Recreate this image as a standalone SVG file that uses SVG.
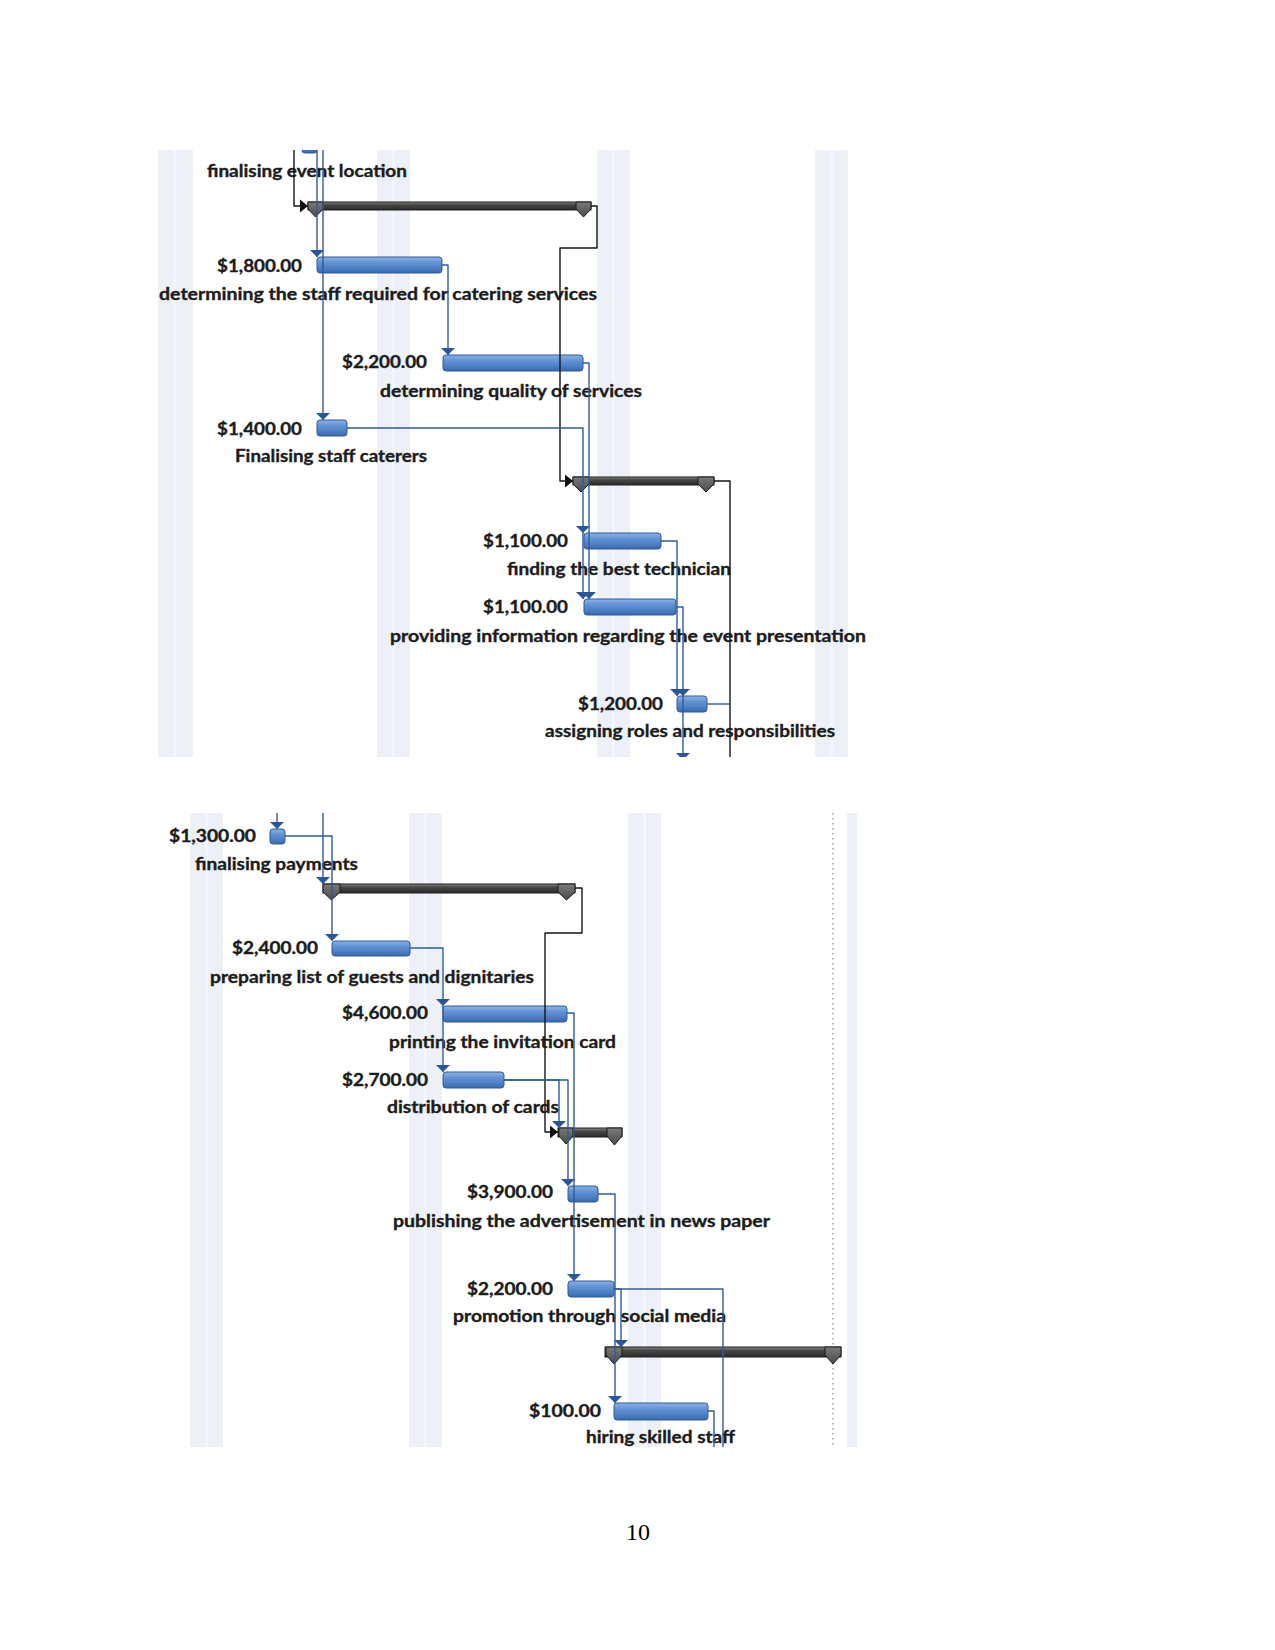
<svg xmlns="http://www.w3.org/2000/svg" width="1275" height="1650" viewBox="0 0 1275 1650">
<style>
.bg{fill:#ffffff}
.st{fill:#edf1f7}
.sl{fill:#f3f6fa}
.bar{fill:url(#bg1);stroke:#2d5b97;stroke-width:1}
.sum{fill:url(#sg1);stroke:#1c1c1c;stroke-width:1}
.cap{fill:url(#sg2);stroke:#1c1c1c;stroke-width:1}
.t{font-family:Lato,"Open Sans","Liberation Sans",sans-serif;font-weight:700;font-size:16.5px;fill:#1c1c1c;stroke:#1c1c1c;stroke-width:0.35}
.lb{fill:none;stroke:#2e5c9b;stroke-width:1.4;stroke-linejoin:round}
.lk{fill:none;stroke:#151515;stroke-width:1.4;stroke-linejoin:round}
.dot{fill:none;stroke:#8a8a8a;stroke-width:1.2;stroke-dasharray:1.5 3.5}
.pg{font-family:"Liberation Serif","Times New Roman",serif;font-size:24px;fill:#000}
</style>
<defs>
<linearGradient id="bg1" x1="0" y1="0" x2="0" y2="1">
<stop offset="0" stop-color="#8db2e4"/>
<stop offset="0.35" stop-color="#6393d5"/>
<stop offset="0.75" stop-color="#4a7cc2"/>
<stop offset="1" stop-color="#3a68aa"/>
</linearGradient>
<linearGradient id="sg1" x1="0" y1="0" x2="0" y2="1">
<stop offset="0" stop-color="#8a8a8a"/>
<stop offset="0.35" stop-color="#474747"/>
<stop offset="1" stop-color="#2b2b2b"/>
</linearGradient>
<linearGradient id="sg2" x1="0" y1="0" x2="0" y2="1">
<stop offset="0" stop-color="#7a7a7a"/>
<stop offset="1" stop-color="#4a4a4a"/>
</linearGradient>
<marker id="ab" markerUnits="userSpaceOnUse" markerWidth="16" markerHeight="16" viewBox="-8 -8 16 16" refX="0" refY="0" orient="auto">
<path d="M-7,-7 L0,0 L-7,7 Z" fill="#2a5699"/>
</marker>
<marker id="ak" markerUnits="userSpaceOnUse" markerWidth="16" markerHeight="16" viewBox="-8 -8 16 16" refX="0" refY="0" orient="auto">
<path d="M-8,-6.5 L0,0 L-8,6.5 Z" fill="#111111"/>
</marker>
<clipPath id="c1"><rect x="150" y="150" width="730" height="607"/></clipPath>
<clipPath id="c2"><rect x="150" y="813" width="730" height="634"/></clipPath>
</defs>
<rect class="bg" x="0" y="0" width="1275" height="1650"/>

<g id="panel-top-bg">
<rect class="st" x="158" y="150" width="35" height="607"/><rect class="sl" x="173" y="150" width="3" height="607"/>
<rect class="st" x="377" y="150" width="33" height="607"/><rect class="sl" x="392" y="150" width="3" height="607"/>
<rect class="st" x="597" y="150" width="33" height="607"/><rect class="sl" x="612" y="150" width="3" height="607"/>
<rect class="st" x="815" y="150" width="33" height="607"/><rect class="sl" x="830" y="150" width="3" height="607"/>
</g>
<g id="panel-bottom-bg">
<rect class="st" x="190" y="813" width="33" height="634"/><rect class="sl" x="205" y="813" width="3" height="634"/>
<rect class="st" x="409" y="813" width="33" height="634"/><rect class="sl" x="424" y="813" width="3" height="634"/>
<rect class="st" x="628" y="813" width="33" height="634"/><rect class="sl" x="643" y="813" width="3" height="634"/>
<rect class="st" x="847" y="813" width="10" height="634"/>
<line class="dot" x1="833" y1="813" x2="833" y2="1447"/>
</g>

<g clip-path="url(#c1)">
<g id="task-event-location">
<rect class="bar" x="302" y="136" width="15" height="17" rx="3"/>
<text class="t" x="207" y="177" textLength="200" lengthAdjust="spacingAndGlyphs">finalising event location</text>
</g>
<g id="summary-1">
<rect class="sum" x="308" y="202" width="283" height="8"/>
<polygon class="cap" points="308,202 323,202 323,209 315.5,217 308,209"/>
<polygon class="cap" points="576,202 591,202 591,209 583.5,217 576,209"/>
</g>
<g id="task-staff-required">
<text class="t" x="217" y="272" textLength="85" lengthAdjust="spacingAndGlyphs">$1,800.00</text>
<rect class="bar" x="317" y="257" width="125" height="16" rx="3"/>
<text class="t" x="159" y="300" textLength="438" lengthAdjust="spacingAndGlyphs">determining the staff required for catering services</text>
</g>
<g id="task-quality">
<text class="t" x="342" y="368" textLength="85" lengthAdjust="spacingAndGlyphs">$2,200.00</text>
<rect class="bar" x="443" y="355" width="140" height="16" rx="3"/>
<text class="t" x="380" y="397" textLength="262" lengthAdjust="spacingAndGlyphs">determining quality of services</text>
</g>
<g id="task-staff-caterers">
<text class="t" x="217" y="435" textLength="85" lengthAdjust="spacingAndGlyphs">$1,400.00</text>
<rect class="bar" x="317" y="420" width="30" height="16" rx="3"/>
<text class="t" x="235" y="462" textLength="192" lengthAdjust="spacingAndGlyphs">Finalising staff caterers</text>
</g>
<g id="summary-2">
<rect class="sum" x="573" y="477" width="141" height="8"/>
<polygon class="cap" points="573,477 589,477 589,484 581,492 573,484"/>
<polygon class="cap" points="698,477 714,477 714,484 706,492 698,484"/>
</g>
<g id="task-technician">
<text class="t" x="483" y="547" textLength="85" lengthAdjust="spacingAndGlyphs">$1,100.00</text>
<rect class="bar" x="584" y="533" width="77" height="16" rx="3"/>
<text class="t" x="507" y="575" textLength="224" lengthAdjust="spacingAndGlyphs">finding the best technician</text>
</g>
<g id="task-presentation">
<text class="t" x="483" y="613" textLength="85" lengthAdjust="spacingAndGlyphs">$1,100.00</text>
<rect class="bar" x="584" y="599" width="92" height="16" rx="3"/>
<text class="t" x="390" y="642" textLength="476" lengthAdjust="spacingAndGlyphs">providing information regarding the event presentation</text>
</g>
<g id="task-roles">
<text class="t" x="578" y="710" textLength="85" lengthAdjust="spacingAndGlyphs">$1,200.00</text>
<rect class="bar" x="677" y="696" width="30" height="16" rx="3"/>
<text class="t" x="545" y="737" textLength="290" lengthAdjust="spacingAndGlyphs">assigning roles and responsibilities</text>
</g>
<g id="connectors-top">
<polyline class="lk" points="294,150 294,206 308,206" marker-end="url(#ak)"/>
<polyline class="lb" points="317,150 317,257" marker-end="url(#ab)"/>
<polyline class="lb" points="323,150 323,420" marker-end="url(#ab)"/>
<polyline class="lb" points="442,265 448,265 448,355" marker-end="url(#ab)"/>
<polyline class="lk" points="591,206 597,206 597,248 560,248 560,481 573,481" marker-end="url(#ak)"/>
<polyline class="lb" points="347,428 583,428 583,533" marker-end="url(#ab)"/>
<polyline class="lb" points="583,533 583,599" marker-end="url(#ab)"/>
<polyline class="lb" points="583,363 589,363 589,599" marker-end="url(#ab)"/>
<polyline class="lb" points="661,541 677,541 677,696" marker-end="url(#ab)"/>
<polyline class="lb" points="676,607 683,607 683,696" marker-end="url(#ab)"/>
<polyline class="lb" points="683,696 683,760" marker-end="url(#ab)"/>
<polyline class="lk" points="714,481 730,481 730,757"/>
<polyline class="lb" points="707,704 730,704"/>
</g>
</g>

<g clip-path="url(#c2)">
<g id="task-payments">
<text class="t" x="169" y="842" textLength="87" lengthAdjust="spacingAndGlyphs">$1,300.00</text>
<rect class="bar" x="270" y="829" width="15" height="15" rx="3"/>
<text class="t" x="195" y="870" textLength="163" lengthAdjust="spacingAndGlyphs">finalising payments</text>
</g>
<g id="summary-3">
<rect class="sum" x="323" y="884" width="252" height="9"/>
<polygon class="cap" points="323,884 340,884 340,892 331.5,900 323,892"/>
<polygon class="cap" points="558,884 575,884 575,892 566.5,900 558,892"/>
</g>
<g id="task-guest-list">
<text class="t" x="232" y="954" textLength="86" lengthAdjust="spacingAndGlyphs">$2,400.00</text>
<rect class="bar" x="332" y="941" width="78" height="15" rx="3"/>
<text class="t" x="210" y="983" textLength="324" lengthAdjust="spacingAndGlyphs">preparing list of guests and dignitaries</text>
</g>
<g id="task-printing">
<text class="t" x="342" y="1019" textLength="86" lengthAdjust="spacingAndGlyphs">$4,600.00</text>
<rect class="bar" x="443" y="1006" width="124" height="16" rx="3"/>
<text class="t" x="389" y="1048" textLength="227" lengthAdjust="spacingAndGlyphs">printing the invitation card</text>
</g>
<g id="task-distribution">
<text class="t" x="342" y="1086" textLength="86" lengthAdjust="spacingAndGlyphs">$2,700.00</text>
<rect class="bar" x="443" y="1072" width="61" height="16" rx="3"/>
<text class="t" x="387" y="1113" textLength="172" lengthAdjust="spacingAndGlyphs">distribution of cards</text>
</g>
<g id="summary-4">
<rect class="sum" x="558" y="1128" width="64" height="9"/>
<polygon class="cap" points="559,1128 573,1128 573,1136 566,1144 559,1136"/>
<polygon class="cap" points="607,1128 622,1128 622,1136 614.5,1145 607,1136"/>
</g>
<g id="task-newspaper">
<text class="t" x="467" y="1198" textLength="86" lengthAdjust="spacingAndGlyphs">$3,900.00</text>
<rect class="bar" x="568" y="1186" width="30" height="16" rx="3"/>
<text class="t" x="393" y="1227" textLength="377" lengthAdjust="spacingAndGlyphs">publishing the advertisement in news paper</text>
</g>
<g id="task-social-media">
<text class="t" x="467" y="1295" textLength="86" lengthAdjust="spacingAndGlyphs">$2,200.00</text>
<rect class="bar" x="568" y="1281" width="46" height="16" rx="3"/>
<text class="t" x="453" y="1322" textLength="273" lengthAdjust="spacingAndGlyphs">promotion through social media</text>
</g>
<g id="summary-5">
<rect class="sum" x="605" y="1347" width="236" height="10"/>
<polygon class="cap" points="606,1347 622,1347 622,1355 614,1364 606,1355"/>
<polygon class="cap" points="825,1347 841,1347 841,1355 833,1364 825,1355"/>
</g>
<g id="task-skilled-staff">
<text class="t" x="529" y="1417" textLength="72" lengthAdjust="spacingAndGlyphs">$100.00</text>
<rect class="bar" x="614" y="1403" width="94" height="17" rx="3"/>
<text class="t" x="586" y="1443" textLength="149" lengthAdjust="spacingAndGlyphs">hiring skilled staff</text>
</g>
<g id="connectors-bottom">
<polyline class="lb" points="277,813 277,829" marker-end="url(#ab)"/>
<polyline class="lb" points="323,813 323,884" marker-end="url(#ab)"/>
<polyline class="lb" points="285,836 332,836 332,941" marker-end="url(#ab)"/>
<polyline class="lk" points="575,888 582,888 582,933 545,933 545,1132 558,1132" marker-end="url(#ak)"/>
<polyline class="lb" points="410,948 443,948 443,1006" marker-end="url(#ab)"/>
<polyline class="lb" points="443,1006 443,1072" marker-end="url(#ab)"/>
<polyline class="lb" points="567,1013 574,1013 574,1281" marker-end="url(#ab)"/>
<polyline class="lb" points="504,1080 559,1080 559,1128" marker-end="url(#ab)"/>
<polyline class="lb" points="504,1080 568,1080 568,1186" marker-end="url(#ab)"/>
<polyline class="lb" points="598,1194 615,1194 615,1403" marker-end="url(#ab)"/>
<polyline class="lb" points="614,1289 621,1289 621,1347" marker-end="url(#ab)"/>
<polyline class="lb" points="614,1289 723,1289 723,1447"/>
<polyline class="lb" points="708,1411 714,1411 714,1447"/>
</g>
</g>

<text class="pg" x="626" y="1540">10</text>
</svg>
